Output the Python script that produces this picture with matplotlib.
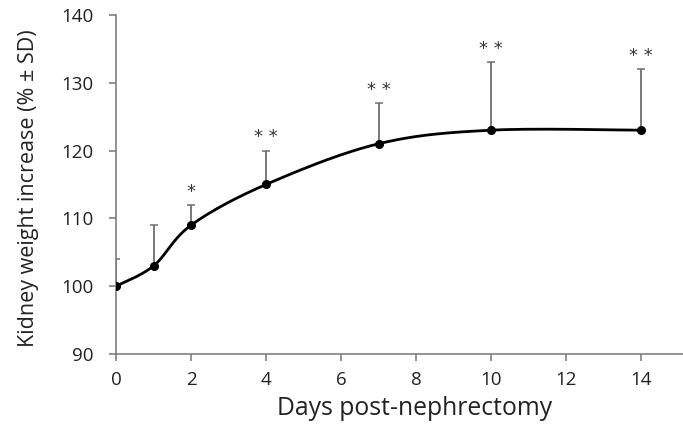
import numpy as np
import matplotlib.pyplot as plt

days = [0, 1, 2, 4, 7, 10, 14]
increase = [100, 103, 109, 115, 121, 123, 123]
sd_upper = [4, 6, 3, 5, 6, 10, 9]
signif = ["", "", "*", "**", "**", "**", "**"]

plt.rcParams['font.family'] = ['Open Sans', 'DejaVu Sans']


def smooth_curve(xs, ys, n=40):
    # Bezier segments with Catmull-Rom style control points (like Excel's smoothed line)
    p = np.column_stack([xs, ys]).astype(float)
    pts = np.vstack([p[0], p, p[-1]])
    out = []
    for i in range(1, len(pts) - 2):
        p0, p1, p2, p3 = pts[i - 1], pts[i], pts[i + 1], pts[i + 2]
        c1 = p1 + (p2 - p0) / 6
        c2 = p2 - (p3 - p1) / 6
        t = np.linspace(0, 1, n)[:, None]
        seg = ((1 - t) ** 3) * p1 + 3 * ((1 - t) ** 2) * t * c1 + 3 * (1 - t) * t ** 2 * c2 + t ** 3 * p2
        out.append(seg)
    out = np.vstack(out)
    return out[:, 0], out[:, 1]


fig = plt.figure(figsize=(6.83, 4.25), dpi=100)
ax = fig.add_axes([0.170, 0.167, 0.830, 0.798])

# upper-only error bars
ax.errorbar(days, increase, yerr=[np.zeros(len(sd_upper)), sd_upper], fmt="none",
            ecolor="#6e6e6e", elinewidth=1.3, capsize=3, capthick=1.1, zorder=2)

sx, sy = smooth_curve(days, increase)
ax.plot(sx, sy, color="black", linewidth=2.0, zorder=3)
ax.plot(days, increase, "o", color="black", markersize=5.5, zorder=4)

for d, v, e, s in zip(days, increase, sd_upper, signif):
    if s:
        ax.text(d, v + e + 0.6, " ".join(s), ha="center", va="bottom", fontsize=13,
                color="#333333", family="DejaVu Sans")

ax.set_xlim(0, 15.12)
ax.set_ylim(90, 140)
ax.set_xticks(range(0, 15, 2))
ax.set_yticks(range(90, 141, 10))

for side in ["top", "right"]:
    ax.spines[side].set_visible(False)
for side in ["left", "bottom"]:
    ax.spines[side].set_color("#7f7f7f")
    ax.spines[side].set_linewidth(1.2)
ax.tick_params(axis="both", colors="#7f7f7f", length=5, width=1.2, labelsize=13.5,
               labelcolor="#222222")
ax.tick_params(axis="x", pad=7)
ax.tick_params(axis="y", pad=11)

ax.set_xlabel("Days post-nephrectomy", fontsize=17.8, color="#222222")
ax.set_ylabel("Kidney weight increase (% ± SD)", fontsize=15.5, color="#222222")
ax.xaxis.set_label_coords(0.526, -0.162)
ax.yaxis.set_label_coords(-0.155, 0.49)
ax.xaxis.label.set_va("center")
ax.yaxis.label.set_va("center")

fig.savefig("out.png", dpi=100)
plt.close(fig)
